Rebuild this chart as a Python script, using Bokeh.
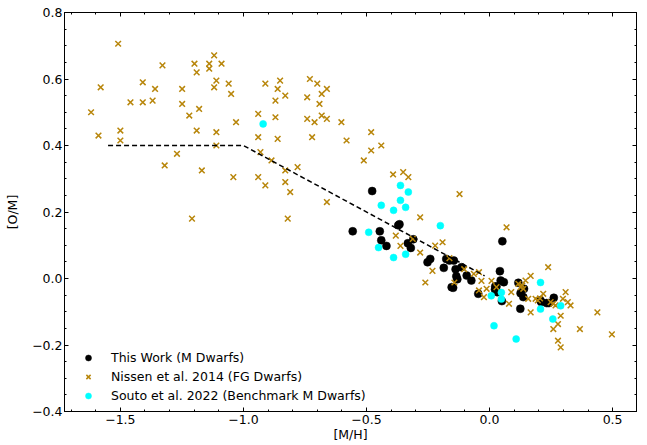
from bokeh.plotting import figure
from bokeh.models import (Range1d, FixedTicker, CustomJSTickFormatter, LinearAxis,
                          Legend, LegendItem, ColumnDataSource)
from bokeh.embed import file_html
from bokeh.resources import INLINE

# ---------------- data ----------------
# This Work (M Dwarfs)
mdw_mh = [-0.556, -0.477, -0.446, -0.440, -0.419, -0.371, -0.366, -0.332, -0.320, -0.310,
          -0.252, -0.241, -0.186, -0.176, -0.163, -0.145, -0.138, -0.135, -0.131, -0.114,
          -0.093, -0.074, -0.154, -0.148, -0.046, 0.022, 0.031, 0.042, 0.045, 0.058,
          0.050, 0.052, 0.028, 0.117, 0.126, 0.137, 0.140, 0.125, 0.207, 0.210,
          0.232, 0.241, 0.261, 0.023]
mdw_om = [0.142, 0.263, 0.142, 0.115, 0.098, 0.160, 0.163, 0.106, 0.092, 0.118,
          0.049, 0.059, 0.032, 0.059, 0.054, 0.054, 0.028, 0.007, -0.002, 0.034,
          0.009, -0.006, -0.026, -0.028, -0.046, -0.033, -0.041, 0.022, -0.006, -0.011,
          -0.068, 0.112, -0.024, -0.013, -0.044, -0.056, -0.031, -0.091, -0.066, -0.071,
          -0.074, -0.074, -0.058, -0.024]

# Nissen et al. 2014 (FG Dwarfs)
fg_mh = [-1.619, -1.589, -1.580, -1.509, -1.500, -1.500, -1.459, -1.409, -1.409, -1.369,
         -1.359, -1.329, -1.320, -1.270, -1.249, -1.249, -1.220, -1.209, -1.199, -1.190,
         -1.190, -1.180, -1.169, -1.139, -1.139, -1.119, -1.119, -1.110, -1.110, -1.110,
         -1.089, -1.060, -1.050, -1.041, -1.030, -0.940, -0.940, -0.940, -0.931, -0.911,
         -0.911, -0.886, -0.870, -0.870, -0.861, -0.861, -0.851, -0.830, -0.830, -0.830,
         -0.820, -0.810, -0.780, -0.741, -0.741, -0.730, -0.721, -0.711, -0.700, -0.691,
         -0.682, -0.682, -0.661, -0.661, -0.661, -0.602, -0.581,
         -0.481, -0.440, -0.481, -0.511, -0.392, -0.351, -0.330, -0.122, -0.282, 0.069,
         -0.381, -0.362, -0.312, -0.282, -0.221, -0.191, -0.232, -0.261, -0.163, -0.143,
         -0.103, -0.064, -0.043, -0.033, -0.043, -0.012, -0.023, 0.008, 0.028, 0.079,
         0.088, 0.117, 0.126, 0.133, 0.137, 0.146, 0.167, 0.157, 0.167, 0.187,
         0.218, 0.238, 0.248, 0.259, 0.268, 0.289, 0.278, 0.259, 0.278, 0.289,
         0.298, 0.309, 0.318, 0.329, 0.367, 0.438, 0.497, 0.196, 0.205]
fg_om = [0.500, 0.430, 0.575, 0.706, 0.445, 0.415, 0.530, 0.590, 0.530, 0.535,
         0.570, 0.641, 0.340, 0.375, 0.570, 0.525, 0.490, 0.180, 0.646, 0.620,
         0.445, 0.510, 0.325, 0.646, 0.631, 0.671, 0.575, 0.595, 0.440, 0.400,
         0.646, 0.586, 0.555, 0.305, 0.470, 0.495, 0.425, 0.305, 0.380, 0.586,
         0.280, 0.355, 0.535, 0.485, 0.570, 0.420, 0.595, 0.550, 0.325, 0.290,
         0.180, 0.260, 0.335, 0.545, 0.480, 0.600, 0.425, 0.470, 0.586, 0.525,
         0.555, 0.490, 0.570, 0.480, 0.230, 0.470, 0.415,
         0.440, 0.400, 0.385, 0.355, 0.313, 0.320, 0.305, 0.254, 0.184, 0.154,
         0.129, 0.098, 0.119, 0.078, 0.099, 0.109, 0.023, -0.012, 0.061, -0.012,
         0.028, 0.014, 0.019, -0.007, -0.036, -0.031, -0.056, -0.007, -0.026, -0.076,
         -0.041, -0.016, -0.026, -0.021, -0.031, -0.006, 0.008, -0.061, -0.102, -0.061,
         -0.046, 0.034, -0.071, -0.076, -0.081, -0.112, -0.137, -0.152, -0.187, -0.207,
         -0.061, -0.041, -0.071, -0.081, -0.152, -0.102, -0.168, -0.066, -0.060]

# Souto et al. 2022 (Benchmark M Dwarfs)
bm_mh = [-0.920, -0.362, -0.330, -0.440, -0.390, -0.362, -0.341, -0.200, -0.491, -0.451,
         -0.390, -0.341, 0.007, 0.048, 0.048, 0.018, 0.108, 0.207, 0.207, 0.257, 0.289]
bm_om = [0.465, 0.280, 0.260, 0.220, 0.205, 0.235, 0.214, 0.159, 0.139, 0.093,
         0.063, 0.073, -0.052, -0.042, -0.062, -0.142, -0.182, -0.012, -0.092, -0.122, -0.082]

# Model trend (dashed line)
trend_mh = [-1.55, -1.0, -0.02]
trend_om = [0.40, 0.40, 0.008]

x_ticks = [-1.5, -1.0, -0.5, 0.0, 0.5]
y_ticks = [-0.4, -0.2, 0.0, 0.2, 0.4, 0.6, 0.8]
x_minor = [round(-1.7 + 0.1 * i, 2) for i in range(24)]
y_minor = [round(-0.4 + 0.05 * i, 2) for i in range(25)]

labels = ["This Work (M Dwarfs)", "Nissen et al. 2014 (FG Dwarfs)",
          "Souto et al. 2022 (Benchmark M Dwarfs)"]

# ---------------- figure ----------------
FONT = "DejaVu Sans"
FS = "12.5px"
p = figure(width=647, height=445, output_backend="svg", toolbar_location=None,
           x_range=Range1d(-1.727, 0.597), y_range=Range1d(-0.4, 0.8),
           min_border_left=64, min_border_right=11, min_border_top=12, min_border_bottom=34,
           background_fill_color="white", border_fill_color="white")
p.grid.visible = False
p.outline_line_color = "black"
p.outline_line_width = 1

fmt = CustomJSTickFormatter(code="return tick.toFixed(1).replace('-', '\u2212');")
blank = CustomJSTickFormatter(code="return '';")

p.xaxis.ticker = FixedTicker(ticks=x_ticks, minor_ticks=x_minor)
p.yaxis.ticker = FixedTicker(ticks=y_ticks, minor_ticks=y_minor)
p.xaxis.formatter = fmt
p.yaxis.formatter = fmt
p.xaxis.axis_label = "[M/H]"
p.yaxis.axis_label = "[O/M]"

for ax in [p.xaxis[0], p.yaxis[0]]:
    ax.major_tick_in = 4
    ax.major_tick_out = 0
    ax.minor_tick_in = 2
    ax.minor_tick_out = 0
    ax.axis_line_color = "black"
    ax.major_tick_line_color = "black"
    ax.minor_tick_line_color = "black"
    ax.major_label_text_font = FONT
    ax.major_label_text_font_size = FS
    ax.major_label_text_color = "black"
    ax.axis_label_text_font = FONT
    ax.axis_label_text_font_size = FS
    ax.axis_label_text_font_style = "normal"
    ax.axis_label_text_color = "black"
p.xaxis.major_label_standoff = 3
p.yaxis.major_label_standoff = 2
p.xaxis.axis_label_standoff = 0
p.yaxis.axis_label_standoff = 9

top = LinearAxis(ticker=FixedTicker(ticks=x_ticks, minor_ticks=x_minor), formatter=blank)
right = LinearAxis(ticker=FixedTicker(ticks=y_ticks, minor_ticks=y_minor), formatter=blank)
for ax in [top, right]:
    ax.major_tick_in = 4
    ax.major_tick_out = 0
    ax.minor_tick_in = 2
    ax.minor_tick_out = 0
    ax.axis_line_color = "black"
    ax.major_tick_line_color = "black"
    ax.minor_tick_line_color = "black"
    ax.major_label_text_font_size = "0px"
    ax.major_label_standoff = 0
p.add_layout(top, "above")
p.add_layout(right, "right")

src_m = ColumnDataSource(dict(x=mdw_mh, y=mdw_om))
src_f = ColumnDataSource(dict(x=fg_mh, y=fg_om))
src_b = ColumnDataSource(dict(x=bm_mh, y=bm_om))
src_t = ColumnDataSource(dict(x=trend_mh, y=trend_om))

r_m = p.scatter("x", "y", source=src_m, marker="circle", size=8, line_width=0.5,
                fill_color="black", line_color="black")
r_f = p.scatter("x", "y", source=src_f, marker="x", size=8, line_width=1.5,
                line_color="#b8860b")
r_b = p.scatter("x", "y", source=src_b, marker="circle", size=7, line_width=0.5,
                fill_color="#00ffff", line_color="#00ffff")
p.line("x", "y", source=src_t, line_color="black", line_width=1.5, line_dash="5 3")

legend = Legend(items=[LegendItem(label=labels[0], renderers=[r_m]),
                       LegendItem(label=labels[1], renderers=[r_f]),
                       LegendItem(label=labels[2], renderers=[r_b])],
                location=(16, 8), border_line_color=None, background_fill_alpha=0,
                label_text_font=FONT, label_text_font_size=FS, label_text_color="black",
                glyph_width=16, glyph_height=15, label_height=15, spacing=4,
                padding=0, margin=0, label_standoff=15)
p.add_layout(legend)

open("out.html", "w").write(file_html(p, INLINE))
